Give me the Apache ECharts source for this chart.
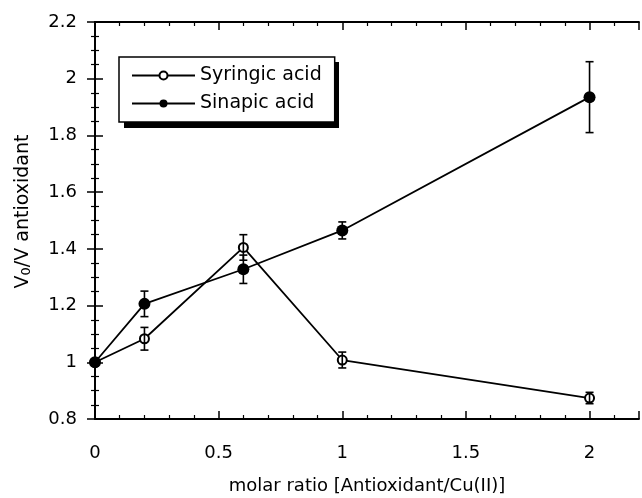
<!DOCTYPE html>
<html>
<head>
<meta charset="utf-8">
<title>V0/V antioxidant</title>
<script src="https://cdn.jsdelivr.net/npm/echarts@6/dist/echarts.min.js"></script>
<style>
  html, body { margin: 0; padding: 0; background: #fff; }
  #chart { width: 642px; height: 498px; }
</style>
</head>
<body>
<div id="chart"></div>
<script>
// molar ratio values
var ratios = [0, 0.2, 0.6, 1, 2];
// Syringic acid
var syringic = [1.0, 1.083, 1.405, 1.008, 0.874];
var syringicErr = [0, 0.04, 0.045, 0.028, 0.02];
// Sinapic acid
var sinapic = [1.0, 1.206, 1.328, 1.465, 1.935];
var sinapicErr = [0, 0.045, 0.05, 0.03, 0.125];

var dom = document.getElementById('chart');
var myChart = echarts.init(dom);

function pairs(ys) {
    return ratios.map(function (x, i) { return [x, ys[i]]; });
}
function errRows(ys, es) {
    return ratios.map(function (x, i) { return [x, ys[i] - es[i], ys[i] + es[i]]; });
}

// 误差线
function renderErr(params, api) {
    var lo = api.coord([api.value(0), api.value(1)]);
    var hi = api.coord([api.value(0), api.value(2)]);
    if (Math.abs(hi[1] - lo[1]) < 1) return null;
    var w = 4;
    var st = { stroke: '#000', lineWidth: 1.6 };
    return {
        type: 'group',
        children: [
            { type: 'line', shape: { x1: lo[0], y1: lo[1], x2: hi[0], y2: hi[1] }, style: st },
            { type: 'line', shape: { x1: lo[0] - w, y1: lo[1], x2: lo[0] + w, y2: lo[1] }, style: st },
            { type: 'line', shape: { x1: hi[0] - w, y1: hi[1], x2: hi[0] + w, y2: hi[1] }, style: st }
        ]
    };
}

var font = 'DejaVu Sans, Liberation Sans, sans-serif';
var axisCommon = {
    axisLine: { lineStyle: { color: '#000', width: 1.8 } },
    axisTick: { inside: true, length: 8, lineStyle: { color: '#000', width: 1.5 } },
    splitLine: { show: false }
};
function minor(n) {
    return { minorTick: { show: true, splitNumber: n, length: 4, lineStyle: { color: '#000', width: 1.2 } } };
}

var option = {
    animation: false,
    textStyle: { fontFamily: font },
    grid: { left: 95, right: 3, top: 22, bottom: 79, outerBoundsMode: 'none', containLabel: false },
    // 图例阴影
    graphic: [
        { type: 'rect', left: 124, top: 62, shape: { width: 215, height: 66 }, style: { fill: '#000' }, z: 0 }
    ],
    legend: {
        left: 119,
        top: 57,
        orient: 'vertical',
        padding: [9, 13, 9, 12],
        itemWidth: 63,
        itemHeight: 10,
        itemGap: 9,
        backgroundColor: '#fff',
        borderColor: '#000',
        borderWidth: 1.5,
        textStyle: { fontSize: 19, color: '#000', fontFamily: font },
        data: ['Syringic acid', 'Sinapic acid']
    },
    xAxis: [
        Object.assign({
            type: 'value', min: 0, max: 2.2, interval: 0.5, position: 'bottom',
            name: 'molar ratio [Antioxidant/Cu(II)]', nameLocation: 'middle', nameGap: 58,
            nameTextStyle: { fontSize: 18, color: '#000', fontFamily: font },
            axisLabel: { margin: 25, fontSize: 18, color: '#000', showMaxLabel: false }
        }, axisCommon, minor(5)),
        Object.assign({
            type: 'value', min: 0, max: 2.2, interval: 0.5, position: 'top',
            axisLabel: { show: false }
        }, axisCommon, minor(5))
    ],
    yAxis: [
        Object.assign({
            type: 'value', min: 0.8, max: 2.2, interval: 0.2, position: 'left',
            name: '{a|V}{b|0}{a|/V antioxidant}', nameLocation: 'middle', nameGap: 62, nameRotate: 90,
            nameTextStyle: {
                color: '#000', fontFamily: font, padding: [0, 0, 0, 18],
                rich: {
                    a: { fontSize: 19, color: '#000', fontFamily: font },
                    b: { fontSize: 13, color: '#000', fontFamily: font, verticalAlign: 'bottom', padding: [7, 0, 0, 0] }
                }
            },
            axisLabel: { margin: 18, fontSize: 18, color: '#000', formatter: function (v) { return +v.toFixed(1) + ''; } }
        }, axisCommon, minor(4)),
        Object.assign({
            type: 'value', min: 0.8, max: 2.2, interval: 0.2, position: 'right',
            axisLabel: { show: false }
        }, axisCommon, minor(4))
    ],
    series: [
        {
            name: 'Syringic acid', type: 'line', data: pairs(syringic),
            symbol: 'emptyCircle', symbolSize: 9, z: 3,
            lineStyle: { color: '#000', width: 1.8 },
            itemStyle: { color: '#000', borderColor: '#000', borderWidth: 1.5 }
        },
        {
            name: 'Sinapic acid', type: 'line', data: pairs(sinapic),
            symbol: 'circle', symbolSize: 12, z: 4,
            lineStyle: { color: '#000', width: 1.8 },
            itemStyle: { color: '#000' }
        },
        { type: 'custom', renderItem: renderErr, data: errRows(syringic, syringicErr), z: 5, encode: { x: 0, y: [1, 2] } },
        { type: 'custom', renderItem: renderErr, data: errRows(sinapic, sinapicErr), z: 5, encode: { x: 0, y: [1, 2] } }
    ]
};

myChart.setOption(option, true);
</script>
</body>
</html>
